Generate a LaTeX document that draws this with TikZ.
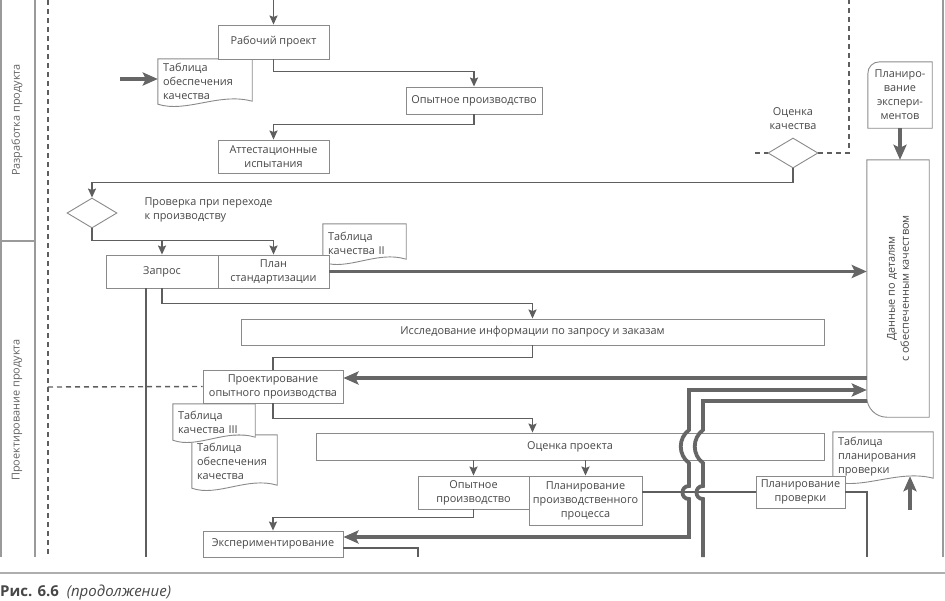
\documentclass[tikz,border=0pt]{standalone}
\usepackage{fontspec}
\setmainfont{Open Sans}
\usetikzlibrary{arrows.meta,calc,shapes.geometric}
\pgfdeclarelayer{bg}
\pgfsetlayers{bg,main}
\definecolor{txt}{HTML}{474747}
\definecolor{bx}{HTML}{8A8A8A}
\definecolor{ln}{HTML}{5E5E5E}
\definecolor{tk}{HTML}{666666}
\definecolor{lane}{HTML}{9A9A9A}
\newcommand\wavydoc[1]{%
  \begin{pgfonlayer}{bg}
  \filldraw[draw=bx, line width=0.9pt, fill=white]
    (#1.north west) -- (#1.north east) -- ($(#1.south east)+(0,-3)$)
    .. controls ($(#1.south east)!0.35!(#1.south west)+(0,-12)$) and ($(#1.south west)!0.3!(#1.south east)+(0,9)$) .. (#1.south west) -- cycle;
  \end{pgfonlayer}}
\begin{document}
\begin{tikzpicture}[x=1pt,y=-1pt,
  every node/.append style={text=txt, font=\fontsize{10.9}{14}\selectfont},
  box/.style={draw=bx, line width=0.9pt, fill=white, align=center, inner sep=1pt},
  docn/.style={align=left, inner xsep=5pt, inner ysep=0pt},
  conn/.style={draw=ln, line width=1.6pt},
  carr/.style={conn, -{Stealth[length=9pt,width=8pt,inset=1.5pt]}},
  thk/.style={draw=tk, line width=3.8pt},
  tarr/.style={thk, -{Stealth[length=15pt,width=13pt,inset=3pt]}},
  tarrb/.style={thk, {Stealth[length=15pt,width=13pt,inset=3pt]}-{Stealth[length=15pt,width=13pt,inset=3pt]}},
  dsh/.style={draw=ln, line width=1.4pt, dash pattern=on 5pt off 4pt},
  dia/.style={diamond, draw=bx, line width=0.9pt, fill=white, inner sep=0pt, minimum width=50pt, minimum height=30pt},
  boxline/.style={draw=bx, line width=0.9pt},
  laneline/.style={draw=lane, line width=1.3pt}
]
\useasboundingbox (0,0) rectangle (945,600);

% lanes
\draw[laneline] (1,0) -- (1,557);
\draw[laneline] (35,0) -- (35,557);
\draw[laneline] (0,241) -- (35,241);
\draw[laneline] (943,0) -- (943,557);
\draw[dsh] (48,0) -- (48,557);
\draw[draw=lane!80, line width=1.5pt] (0,573) -- (945,573);
\node[rotate=90, text=txt!85] (l1) at (17,120) {Разработка продукта};
\node[rotate=90, text=txt!85] (l2) at (17,410) {Проектирование продукта};
\node[anchor=base west, inner sep=0pt, font=\fontsize{15}{17}\selectfont, text=txt] (cap) at (0,596) {\textbf{Рис. 6.6}\ \ \textit{(продолжение)}};

% nodes
\node[box, minimum width=111pt, minimum height=34pt] (rp) at (273.5,42) {Рабочий проект};
\node[docn, text width=84pt, minimum height=45pt] (doc1) at (205,81.5) {Таблица\\обеспечения\\качества};
\wavydoc{doc1}
\node[box, minimum width=136pt, minimum height=27pt] (op1) at (474,100.5) {Опытное производство};
\node[box, minimum width=111pt, minimum height=33pt] (att) at (273.5,156.5) {Аттестационные\\испытания};
\node[dia] (d1) at (793,153) {};
\node[align=center] (lq) at (793,119) {Оценка\\качества};
\node[dia] (d2) at (92,213) {};
\node[align=left, anchor=north west] (lp) at (141,194) {Проверка при переходе\\к производству};

\node[minimum width=64pt, minimum height=66pt, align=center, inner sep=0pt] (pe) at (900,95) {Планиро-\\вание\\экспери-\\ментов};
\draw[boxline] ($(pe.north west)+(0,12)$) -- (pe.south west) -- (pe.south east) -- (pe.north east) -- ($(pe.north west)+(12,0)$) .. controls ($(pe.north west)+(5,0)$) and ($(pe.north west)+(0,5)$) .. ($(pe.north west)+(0,12)$) -- cycle;

\node[minimum width=62pt, minimum height=257pt, inner sep=0pt] (dan) at (898,288.5) {};
\draw[boxline] ($(dan.south west)+(0,-20)$) -- (dan.north west) -- (dan.north east) -- (dan.south east) -- ($(dan.south west)+(20,0)$) .. controls ($(dan.south west)+(9,0)$) and ($(dan.south west)+(0,-9)$) .. ($(dan.south west)+(0,-20)$) -- cycle;
\node[rotate=90, align=center] (dant) at (dan.center) {Данные по деталям\\с обеспеченным качеством};

\node[docn, text width=73pt, minimum height=38pt] (doc2) at (364.5,243) {Таблица\\качества II};
\wavydoc{doc2}
\node[box, minimum width=112pt, minimum height=33pt] (zap) at (162,271.5) {Запрос};
\node[box, minimum width=111pt, minimum height=33pt] (plan) at (273.5,271.5) {План\\стандартизации};
\node[box, minimum width=583pt, minimum height=26pt] (issl) at (532.5,332) {Исследование информации по запросу и заказам};
\node[box, minimum width=140pt, minimum height=33pt] (proekt) at (273,386.5) {Проектирование\\опытного производства};
\node[docn, text width=75pt, minimum height=53pt] (doc4) at (234.5,461.5) {Таблица\\обеспечения\\качества};
\wavydoc{doc4}
\node[docn, text width=72pt, minimum height=36pt] (doc3) at (214,422) {Таблица\\качества III};
\wavydoc{doc3}
\node[box, minimum width=508pt, minimum height=27pt] (ocp) at (570,446.5) {Оценка проекта};
\node[box, minimum width=111pt, minimum height=33pt] (op2) at (473.5,492.5) {Опытное\\производство};
\node[box, minimum width=113pt, minimum height=49pt] (ppp) at (585.5,500.5) {Планирование\\производственного\\процесса};
\node[box, minimum width=140pt, minimum height=26pt] (exp) at (273,544) {Экспериментирование};
\node[docn, text width=90pt, minimum height=49pt] (doc5) at (883,456.5) {Таблица\\планирования\\проверки};
\wavydoc{doc5}
\node[box, minimum width=89pt, minimum height=32pt] (pp) at (800.5,492) {Планирование\\проверки};

% coordinates for free ends
\coordinate (top1) at (273.5,0);
\coordinate (in1) at (120,79);
\coordinate (in5) at (910,510);
\coordinate (zb) at (146,557);
\coordinate (h378) at (0,378);
\coordinate (dl) at (48,387);
\coordinate (pb) at (867,557);
\coordinate (eb) at (418,557);
\coordinate (dq) at (755,153);
\coordinate (dtop) at (849,0);
\coordinate (v1) at (689,390);
\coordinate (v2) at (703,401);
\coordinate (v2b) at (703,557);

% connectors
\draw[carr] (top1) -- (rp.north);
\draw[tarr] (in1) -- (in1 -| doc1.west);
\draw[carr] (rp.south) -- ++(0,12) -| (op1.north);
\draw[carr] (op1.south) -- ++(0,10) -| (att.north);
\draw[carr] (d1.south) -- ++(0,14) -| (d2.north);
\draw[dsh] (dq) -- (d1.west);
\draw[dsh] (d1.east) -| (dtop);
\draw[carr] (d2.south) -- ++(0,12) coordinate (j1) -| (plan.north);
\draw[carr] (j1 -| zap.north) -- (zap.north);
\draw[tarr] (plan.east) -- (plan.east -| dan.west);
\draw[carr] (zap.south) -- ++(0,15) -| (issl.north);
\draw[conn] (zb |- zap.south) -- (zb);
\draw[conn] (issl.south) -- ++(0,12) -| (proekt.north);
\draw[carr] (proekt.south) -- ++(0,15) -| (issl.south |- ocp.north);
\draw[tarr] (h378 -| dan.west) -- (h378 -| proekt.east);
\draw[dsh] (dl) -- (proekt.west);
\draw[carr] (ocp.south -| op2.north) -- (op2.north);
\draw[carr] (ocp.south -| ppp.north) -- (ppp.north);
\draw[carr] (op2.south) -- ++(0,8) -| (exp.north);
\draw[conn] ($(exp.east)+(0,4)$) -| (eb);
\draw[conn] (ppp.east |- pp.west) -- (pp.west);
\draw[conn] (pp.east) -| (pb);
\draw[tarr] (pe.south) -- (pe.south |- dan.north);
\draw[tarr] (in5) -- ($(in5 |- doc5.south)+(0,-5)$);

\draw[tarrb] ($(exp.east)+(0,-7)$) -- (689,537) -- (689,499)
  .. controls (680.3,499) and (680.3,486) .. (689,486) -- (689,463)
  .. controls (678,455) and (678,438) .. (689,430) -- (v1) -- (v1 -| dan.west);
\draw[thk] (v2b) -- (703,499)
  .. controls (694.3,499) and (694.3,486) .. (703,486) -- (703,463)
  .. controls (692,455) and (692,438) .. (703,430) -- (v2) -- (v2 -| dan.west);
\end{tikzpicture}
\end{document}
